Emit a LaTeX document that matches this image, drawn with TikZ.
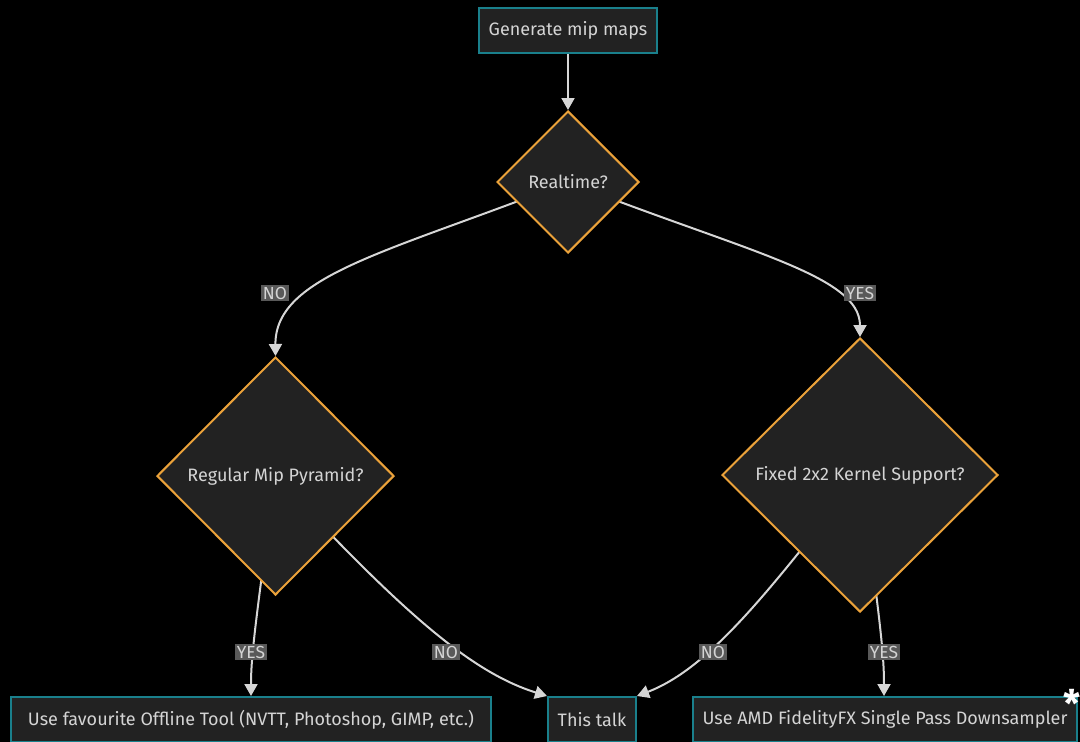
\documentclass[tikz,border=0pt]{standalone}
\usepackage{fontspec}
\setmainfont{Fira Sans}
\usetikzlibrary{shapes.geometric,arrows.meta}
\pgfdeclarelayer{bg}
\pgfdeclarelayer{edges}
\pgfsetlayers{bg,edges,main}
\definecolor{nodefill}{HTML}{222222}
\definecolor{boxborder}{HTML}{1A808C}
\definecolor{diaborder}{HTML}{EBA23A}
\definecolor{txt}{HTML}{D4D4D4}
\definecolor{edgecol}{HTML}{D6D6D6}
\definecolor{lblbg}{HTML}{595959}
\begin{document}
\begin{tikzpicture}[x=1pt,y=-1pt,
  font=\fontsize{18}{21}\selectfont,
  box/.style={draw=boxborder, line width=2pt, fill=nodefill, text=txt,
    minimum height=45pt, inner sep=0pt},
  dia/.style={diamond, aspect=1, draw=diaborder, line width=2pt, fill=nodefill,
    text=txt, inner sep=0pt},
  edge/.style={draw=edgecol, line width=2pt, -{Triangle[length=12pt,width=13pt]}},
  lbl/.style={fill=lblbg, text=txt, inner xsep=1.5pt, inner ysep=2pt, font=\fontsize{17.5}{20}\selectfont}]
\begin{pgfonlayer}{bg}
\fill[black] (0,0) rectangle (1080,742);
\end{pgfonlayer}
\useasboundingbox (0,0) rectangle (1080,742);

\node[box, minimum width=178pt] (S) at (568,30.5) {Generate mip maps};
\node[dia, minimum width=142pt, minimum height=142pt] (R) at (568,182) {Realtime?};
\node[dia, minimum width=237pt, minimum height=238pt] (G) at (275.5,476) {Regular Mip Pyramid?};
\node[dia, minimum width=276pt, minimum height=274pt] (F) at (860,475) {Fixed 2x2 Kernel Support?};
\node[box, minimum width=480pt] (O) at (251,719.5) {Use favourite Offline Tool (NVTT, Photoshop, GIMP, etc.)};
\node[box, minimum width=88pt] (T) at (592,719.5) {This talk};
\node[box, minimum width=384pt] (A) at (885,719.5) {Use AMD FidelityFX Single Pass Downsampler};
\node[text=white, font=\fontsize{38}{38}\bfseries\selectfont, inner sep=0pt] (star) at (1072,703) {*};

\begin{pgfonlayer}{edges}
\draw[edge] (S) -- (R.north);
\draw[edge] (R.center) .. controls (390,252) and (275,275) .. (G.north);
\draw[edge] (R.center) .. controls (746,252) and (860,275) .. (F.north);
\draw[edge] (G.center) .. controls (254,630) and (251,660) .. (O.north);
\draw[edge] (G.center) .. controls (400,610) and (470,672) .. (T.north west);
\draw[edge] (F.center) .. controls (770,590) and (710,668) .. (T.north east);
\draw[edge] (F.center) .. controls (882,630) and (884,660) .. ([xshift=-1pt]A.north);
\end{pgfonlayer}

\node[lbl] (l1) at (275,293) {NO};
\node[lbl] (l2) at (860,293) {YES};
\node[lbl] (l3) at (251,652) {YES};
\node[lbl] (l4) at (446,652) {NO};
\node[lbl] (l5) at (713,652) {NO};
\node[lbl] (l6) at (884,652) {YES};
\end{tikzpicture}
\end{document}
